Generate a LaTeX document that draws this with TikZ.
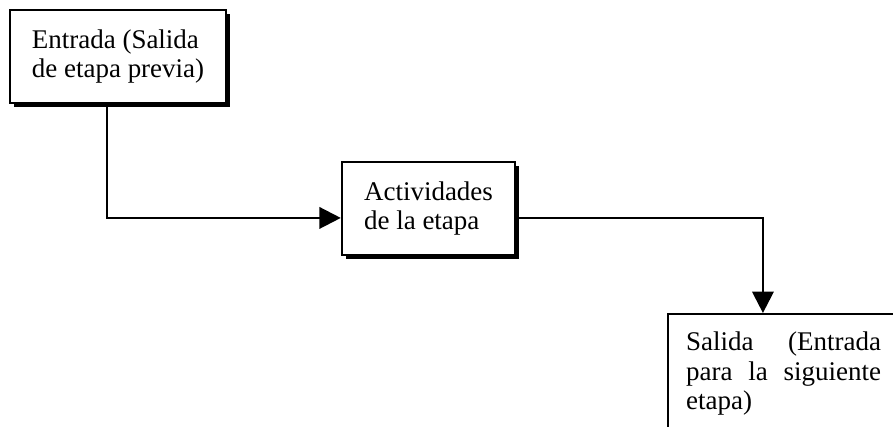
\documentclass[tikz,border=0pt]{standalone}
\usepackage{fontspec}
\setmainfont{Liberation Serif}
\usepackage{tikz}
\usetikzlibrary{arrows.meta,shadows}
\colorlet{box_line}{black}
\tikzset{
    etapa/.style={draw=box_line,line width=1.1pt,fill=white,align=left,
        font=\fontsize{12.6}{14}\selectfont,
        drop shadow={shadow xshift=1.8pt,shadow yshift=-1.8pt,fill=black,opacity=1}},
    flujo/.style={-{Triangle[length=10pt,width=10pt]},line width=1.1pt},
}

\begin{document}
\begin{tikzpicture}[x=0.467pt,y=-0.467pt]
  \useasboundingbox (0,0) rectangle (893,426);
  \clip (0,0) rectangle (893,426);
  \node[etapa,minimum width=100.9pt,minimum height=43.4pt] (entrada) at (118,56.5)
    {Entrada (Salida\\de etapa previa)};
  \node[etapa,minimum width=80.8pt,minimum height=43.4pt] (actividades) at (428.5,208.5)
    {Actividades\\de la etapa};
  \node[etapa,anchor=north west,text width=91pt,inner xsep=8.4pt,inner ysep=8pt,
    align=justify] (salida) at (667,313)
    {Salida (Entrada\linebreak para la siguiente\linebreak etapa)};
  \draw[flujo] ([xshift=-5.1pt]entrada.south) |- ([yshift=-4.4pt]actividades.west);
  \draw[flujo] ([yshift=-4.4pt]actividades.east) -| ([xshift=44.8pt]salida.north west);
\end{tikzpicture}
\end{document}
